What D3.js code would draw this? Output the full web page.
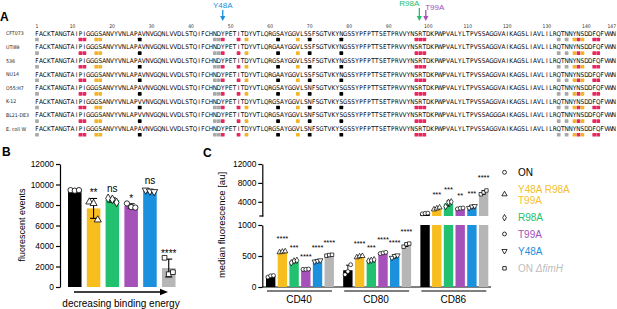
<!DOCTYPE html>
<html>
<head>
<meta charset="utf-8">
<script src="https://cdn.jsdelivr.net/npm/d3@7"></script>
<style>
body { margin: 0; background: #fff; }
svg { font-family: "Liberation Sans", Arial, sans-serif; }
</style>
</head>
<body>
<script>
// ---- panel A data
const seqBase = "FACKTANGTAIPIGGGSANVYVNLAPAVNVGQNLVVDLSTQIFCHNDYPETITDYVTLQRGSAYGGVLSSFSGTVKYNGSSYPFPTTSETPRVVYNSRTDKPWPVALYLTPVSSAGGVAIKAGSLIAVLILRQTNNYNSDDFQFVWN";
const strains = ["CFT073", "UTI89", "536", "NU14", "O55:H7", "K-12", "BL21-DE3", "E. coli W"];
const strainSubs = [
  [],
  [[62, "A"]],
  [],
  [[62, "A"]],
  [[70, "N"], [78, "S"]],
  [[27, "V"], [70, "N"], [78, "S"]],
  [[27, "V"], [70, "N"], [78, "S"], [118, "G"]],
  [[70, "N"], [78, "S"]]
];
const posTicks = [1, 10, 20, 30, 40, 50, 60, 70, 80, 90, 100, 110, 120, 130, 140, 147];
const greyRes = [1, 46, 47, 133, 135];
const redRes = [12, 13, 48, 52, 97, 98, 99, 138, 142, 143];
const orangeRes = [16, 17, 54, 67, 137, 139];
const blackRes = [27, 62, 70, 78];
const mutLabels = ["Y48A", "R98A", "T99A"];
const mutPos = [48, 98, 99];

// ---- shared series
const series = ["ON", "Y48A R98A T99A", "R98A", "T99A", "Y48A", "ON ΔfimH"];
const colors = ["#000000", "#f8bd1f", "#22c170", "#a650b9", "#1b90dc", "#b6b6b6"];
const legendColors = ["#000000", "#f6bf2c", "#22c170", "#a650b9", "#1b90dc", "#bdbdbd"];

// ---- panel B data
const bindPoints = [
  [9450, 9400, 9450],
  [8300, 8150, 6550],
  [8650, 8550, 8250],
  [8150, 7800, 7750],
  [9450, 9350, 9300],
  [2850, 1250, 1450]
];
const bindSig = ["", "**", "ns", "*", "ns", "****"];
const bTicks = [0, 2000, 4000, 6000, 8000, 10000, 12000];

// ---- panel C data
const markers = ["CD40", "CD80", "CD86"];
const cd40 = [[160, 180, 185], [560, 570, 575], [390, 420, 430], [285, 285, 290], [410, 420, 430], [505, 515, 520]];
const cd80 = [[200, 250, 360], [480, 495, 500], [420, 430, 440], [540, 550, 560], [470, 500, 510], [650, 690, 700]];
const cd86 = [[1450, 1550, 1600], [2400, 2600, 2800], [3000, 3900, 4000], [2500, 2650, 2700], [2700, 3000, 3100], [5600, 6000, 6400]];
const sig40 = ["", "****", "***", "****", "****", "****"];
const sig80 = ["", "****", "***", "****", "****", "****"];
const sig86 = ["", "***", "***", "**", "***", "****"];
const lowTicks = [0, 500, 1000];
const highTicks = [4000, 8000, 12000];

const W = 617, H = 309;
const svg = d3.select("body").append("svg").attr("width", W).attr("height", H);

const shapes = [d3.symbolCircle, d3.symbolTriangle, d3.symbolDiamond, d3.symbolCircle, d3.symbolTriangle, d3.symbolSquare];
const flip = [false, false, false, false, true, false];
const fmt = d3.format("d");

function panelLabel(t, x, y) {
  svg.append("text").attr("x", x).attr("y", y).attr("font-size", 12).attr("font-weight", "bold").text(t);
}

// ================= A
panelLabel("A", 0, 21);
const xs = d3.scaleBand().domain(d3.range(1, 148)).range([35, 616]);
const step = xs.step();
const rowY = d3.scalePoint().domain(strains).range([33.5, 128.7]);
const gA = svg.append("g");
const narrow = "'Liberation Sans Narrow','DejaVu Sans Condensed',sans-serif";

gA.selectAll(".num").data(posTicks).enter().append("text")
  .attr("x", d => d == 147 ? 616 : xs(d) + step / 2).attr("y", 27.5)
  .attr("text-anchor", d => d == 147 ? "end" : "middle").attr("font-size", 5).attr("fill", "#333")
  .attr("font-family", narrow)
  .text(d => d);

const marks = [].concat(
  greyRes.map(p => [p, "#a9a9a9"]),
  redRes.map(p => [p, "#e8275f"]),
  orangeRes.map(p => [p, "#f4b42a"]),
  blackRes.map(p => [p, "#000"])
);

strains.forEach((s, i) => {
  const y = rowY(s);
  const seq = seqBase.split("");
  strainSubs[i].forEach(([p, r]) => seq[p - 1] = r);
  gA.append("text").attr("x", 6).attr("y", y + 1.8)
    .attr("font-size", 5.2).attr("font-family", narrow).attr("fill", "#222")
    .text(s);
  gA.append("g").selectAll("text").data(seq).enter().append("text")
    .attr("x", (d, k) => xs(k + 1) + step / 2).attr("y", y + 2.3)
    .attr("text-anchor", "middle").attr("font-size", 6.4)
    .attr("font-family", narrow)
    .text(d => d);
  gA.append("g").selectAll("rect").data(marks).enter().append("rect")
    .attr("x", d => xs(d[0]) + 0.1).attr("y", y + 4.2)
    .attr("width", step - 0.2).attr("height", 3.6)
    .attr("rx", 0.6).attr("fill", d => d[1]);
});

// mutation arrows
const mutColors = [colors[4], colors[2], colors[3]];
const mutText = [[0, 5], [-10, 3], [9, 7]];
mutLabels.forEach((m, i) => {
  const x = xs(mutPos[i]) + step / 2 + (i == 1 ? -1 : i == 2 ? 1.5 : 0);
  const top = i == 0 ? 10 : i == 1 ? 8 : 10;
  gA.append("line").attr("x1", x).attr("x2", x).attr("y1", top).attr("y2", 17)
    .attr("stroke", mutColors[i]).attr("stroke-width", 1.3);
  gA.append("path").attr("d", `M${x - 2.6},${16} L${x + 2.6},${16} L${x},${21} Z`).attr("fill", mutColors[i]);
  gA.append("text").attr("x", x + mutText[i][0]).attr("y", mutText[i][1] + 3)
    .attr("text-anchor", "middle").attr("font-size", 8).attr("fill", mutColors[i]).text(m);
});

// ================= B
panelLabel("B", 2, 156);
const bx = d3.scaleBand().domain(d3.range(series.length)).range([68, 175.5]).paddingInner(0.28);
const by = d3.scaleLinear().domain([0, 12000]).range([287, 164]);
const gB = svg.append("g");
gB.append("g").attr("transform", "translate(60,0)")
  .call(d3.axisLeft(by).tickValues(bTicks).tickFormat(fmt).tickSize(4).tickSizeOuter(0).tickPadding(2))
  .call(g => g.selectAll("text").attr("font-size", 8.4).attr("font-family", "Liberation Sans"))
  .call(g => g.selectAll("line,path").attr("stroke-width", 1.2));

const bStats = bindPoints.map(p => ({ m: d3.mean(p), sd: d3.deviation(p) }));
gB.selectAll(".bar").data(bStats).enter().append("rect")
  .attr("x", (d, i) => bx(i)).attr("y", d => by(d.m))
  .attr("width", bx.bandwidth()).attr("height", d => by(0) - by(d.m))
  .attr("fill", (d, i) => colors[i]);
bStats.forEach((d, i) => {
  const cx = bx(i) + bx.bandwidth() / 2;
  const ec = i == 0 ? "#fff" : "#000";
  gB.append("line").attr("x1", cx).attr("x2", cx).attr("y1", by(d.m - d.sd)).attr("y2", by(d.m + d.sd)).attr("stroke", ec).attr("stroke-width", 1.1);
  [d.m - d.sd, d.m + d.sd].forEach(v => gB.append("line").attr("x1", cx - 3.5).attr("x2", cx + 3.5).attr("y1", by(v)).attr("y2", by(v)).attr("stroke", ec).attr("stroke-width", 1.1));
  bindPoints[i].forEach((v, k) => {
    gB.append("path").attr("d", d3.symbol(shapes[i], 22)())
      .attr("transform", `translate(${cx + (k - 1) * 4.2},${by(v)})${flip[i] ? " rotate(180)" : ""}`)
      .attr("fill", "#fff").attr("stroke", "#000").attr("stroke-width", 0.8);
  });
  if (bindSig[i]) {
    gB.append("text").attr("x", cx).attr("y", by(d.m + d.sd) - (bindSig[i] == "ns" ? 6 : 2))
      .attr("text-anchor", "middle").attr("font-size", 10).text(bindSig[i]);
  }
});
gB.append("text").attr("transform", "translate(25,225) rotate(-90)").attr("text-anchor", "middle")
  .attr("font-size", 9).text("fluorescent events");
gB.append("line").attr("x1", 74).attr("x2", 161).attr("y1", 292).attr("y2", 292).attr("stroke", "#000").attr("stroke-width", 1.3);
gB.append("path").attr("d", "M160,288.8 L168,292 L160,295.2 Z").attr("fill", "#000");
gB.append("text").attr("x", 121).attr("y", 306.5).attr("text-anchor", "middle").attr("font-size", 10)
  .text("decreasing binding energy");

// ================= C
panelLabel("C", 203, 157);
const gC = svg.append("g");
const axX = 262.3;
const yLow = d3.scaleLinear().domain([0, 1000]).range([287, 225]);
const yHigh = d3.scaleLinear().domain([1000, 12000]).range([216, 164]);
const yC = v => v > 1000 ? yHigh(v) : yLow(v);
const gx = d3.scaleBand().domain(markers).range([266, 488.3]).paddingInner(0.12);
const sx = d3.scaleBand().domain(d3.range(series.length)).range([0, gx.bandwidth()]).paddingInner(0.2);

const axStyle = g => g.call(s => s.selectAll("text").attr("font-size", 8.4).attr("font-family", "Liberation Sans"))
  .call(s => s.selectAll("line,path").attr("stroke-width", 1.2));
gC.append("g").attr("transform", `translate(${axX},0)`)
  .call(d3.axisLeft(yLow).tickValues(lowTicks).tickFormat(fmt).tickSize(4).tickSizeOuter(0).tickPadding(2)).call(axStyle);
gC.append("g").attr("transform", `translate(${axX},0)`)
  .call(d3.axisLeft(yHigh).tickValues(highTicks).tickFormat(fmt).tickSize(4).tickSizeOuter(0).tickPadding(2)).call(axStyle);
gC.append("line").attr("x1", axX - 3).attr("x2", axX + 1).attr("y1", yHigh(1000)).attr("y2", yHigh(1000)).attr("stroke", "#000").attr("stroke-width", 1.2);
gC.append("line").attr("x1", axX).attr("x2", 491).attr("y1", 287).attr("y2", 287).attr("stroke", "#000").attr("stroke-width", 1.2);

[cd40, cd80, cd86].forEach((grp, gi) => {
  const g0 = gx(markers[gi]);
  const sigs = [sig40, sig80, sig86][gi];
  grp.forEach((pts, i) => {
    const m = d3.mean(pts), sd = d3.deviation(pts);
    const x = g0 + sx(i), bw = sx.bandwidth(), cx = x + bw / 2;
    if (m > 1000) {
      gC.append("rect").attr("x", x).attr("y", yLow(1000)).attr("width", bw).attr("height", yLow(0) - yLow(1000)).attr("fill", colors[i]);
      gC.append("rect").attr("x", x).attr("y", yHigh(m)).attr("width", bw).attr("height", yHigh(1000) - yHigh(m)).attr("fill", colors[i]);
    } else {
      gC.append("rect").attr("x", x).attr("y", yLow(m)).attr("width", bw).attr("height", yLow(0) - yLow(m)).attr("fill", colors[i]);
    }
    const ec = "#000";
    gC.append("line").attr("x1", cx).attr("x2", cx).attr("y1", yC(m - sd)).attr("y2", yC(m + sd)).attr("stroke", ec).attr("stroke-width", 0.9);
    [m - sd, m + sd].forEach(v => gC.append("line").attr("x1", cx - 2).attr("x2", cx + 2).attr("y1", yC(v)).attr("y2", yC(v)).attr("stroke", ec).attr("stroke-width", 0.9));
    pts.forEach((v, k) => {
      gC.append("path").attr("d", d3.symbol(shapes[i], 12)())
        .attr("transform", `translate(${cx + (k - 1) * 2.8},${yC(v)})${flip[i] ? " rotate(180)" : ""}`)
        .attr("fill", "#fff").attr("stroke", "#000").attr("stroke-width", 0.7);
    });
    if (sigs[i]) {
      gC.append("text").attr("x", cx).attr("y", yC(d3.max(pts)) - 10)
        .attr("text-anchor", "middle").attr("font-size", 7.5).text(sigs[i]);
    }
  });
  gC.append("line").attr("x1", g0 + 1).attr("x2", g0 + gx.bandwidth() - 2).attr("y1", 291).attr("y2", 291)
    .attr("stroke", "#000").attr("stroke-width", 1.2);
  gC.append("text").attr("x", g0 + gx.bandwidth() / 2 - 1).attr("y", 303).attr("text-anchor", "middle")
    .attr("font-size", 10).text(markers[gi]);
});
gC.append("text").attr("transform", "translate(225,225) rotate(-90)").attr("text-anchor", "middle")
  .attr("font-size", 9.5).text("median fluorescence [au]");

// legend
const legY = [172.3, 194.3, 217.7, 234, 251, 268.3];
series.forEach((s, i) => {
  gC.append("path").attr("d", d3.symbol(shapes[i], 12)())
    .attr("transform", `translate(504.5,${legY[i]})${flip[i] ? " rotate(180)" : ""}`)
    .attr("fill", "#fff").attr("stroke", "#000").attr("stroke-width", 0.8);
  const t = gC.append("text").attr("x", 518).attr("font-size", 10).attr("fill", legendColors[i]);
  if (i == 1) {
    t.attr("y", legY[i] - 5 + 3.6);
    t.append("tspan").attr("x", 518).text("Y48A R98A");
    t.append("tspan").attr("x", 518).attr("dy", 11.4).text("T99A");
  } else if (i == 5) {
    t.attr("y", legY[i] + 3.6);
    t.append("tspan").text("ON ");
    t.append("tspan").attr("font-style", "italic").text("ΔfimH");
  } else {
    t.attr("y", legY[i] + 3.6).text(s);
  }
});
</script>
</body>
</html>
